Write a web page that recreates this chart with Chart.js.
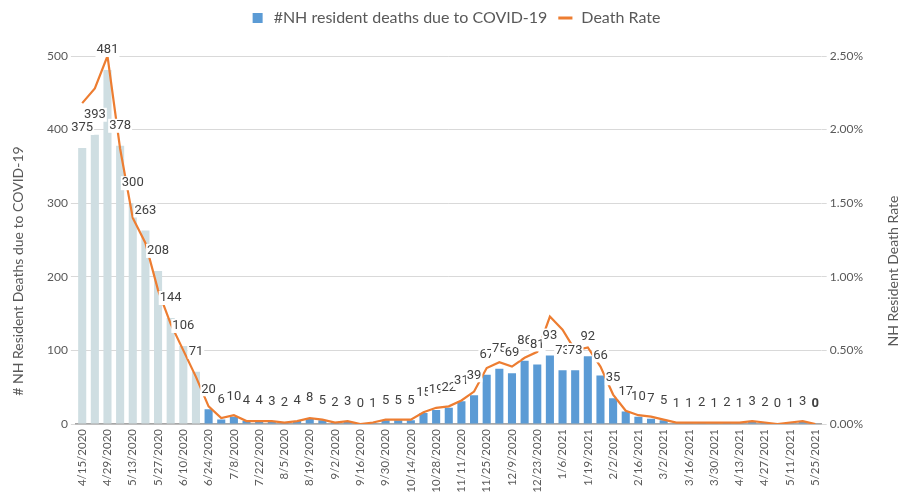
<!DOCTYPE html>
<html lang="en">
<head>
  <meta charset="UTF-8" />
  <title>NH Resident Deaths</title>
  <script src="https://cdn.jsdelivr.net/npm/chart.js"></script>
  <style>
    body { margin: 0; background: #fff; }
    .wrap { width: 902px; height: 493px; }
  </style>
</head>
<body>
  <div class="wrap"><canvas id="chart"></canvas></div>
  <script>
    const weeks = ['4/15/2020','4/22/2020','4/29/2020','5/6/2020','5/13/2020','5/20/2020','5/27/2020','6/3/2020',
      '6/10/2020','6/17/2020','6/24/2020','7/1/2020','7/8/2020','7/15/2020','7/22/2020','7/29/2020','8/5/2020',
      '8/12/2020','8/19/2020','8/26/2020','9/2/2020','9/9/2020','9/16/2020','9/23/2020','9/30/2020','10/7/2020',
      '10/14/2020','10/21/2020','10/28/2020','11/4/2020','11/11/2020','11/18/2020','11/25/2020','12/2/2020',
      '12/9/2020','12/16/2020','12/23/2020','12/30/2020','1/6/2021','1/12/2021','1/19/2021','1/26/2021',
      '2/2/2021','2/9/2021','2/16/2021','2/23/2021','3/2/2021','3/9/2021','3/16/2021','3/23/2021','3/30/2021',
      '4/6/2021','4/13/2021','4/20/2021','4/27/2021','5/4/2021','5/11/2021','5/18/2021','5/25/2021'];

    const deaths = [375,393,481,378,300,263,208,144,106,71,20,6,10,4,4,3,2,4,8,5,2,3,0,1,5,5,5,15,19,22,
      31,39,67,75,69,86,81,93,73,73,92,66,35,17,10,7,5,1,1,2,1,2,1,3,2,0,1,3,0];

    // death rate in percent
    const deathRate = [2.18,2.28,2.50,1.87,1.40,1.23,0.91,0.68,0.50,0.32,0.12,0.04,0.06,0.02,0.02,0.02,0.01,
      0.02,0.04,0.03,0.01,0.02,0.00,0.01,0.03,0.03,0.03,0.08,0.11,0.12,0.16,0.22,0.38,0.42,0.39,0.45,0.49,
      0.73,0.64,0.50,0.52,0.39,0.20,0.09,0.06,0.05,0.03,0.01,0.01,0.01,0.01,0.01,0.01,0.02,0.01,0.00,0.01,0.02,0.00];

    const firstWave = 10;
    const barColors = deaths.map((_, i) => i < firstWave ? '#cfdee2' : '#5b9bd5');

    const leftTitle = '# NH Resident Deaths due to COVID-19';
    const rightTitle = 'NH Resident Death Rate';

    const barLabels = {
      id: 'barLabels',
      afterDatasetsDraw(chart) {
        const ctx = chart.ctx;
        const meta = chart.getDatasetMeta(0);
        ctx.save();
        ctx.textAlign = 'center';
        ctx.textBaseline = 'middle';
        meta.data.forEach((bar, i) => {
          const txt = String(deaths[i]);
          const bold = i === deaths.length - 1;
          ctx.font = (bold ? 'bold ' : '') + '13px Roboto';
          const w = ctx.measureText(txt).width;
          const y = bar.y - 20;
          ctx.fillStyle = '#fff';
          ctx.fillRect(bar.x - w / 2 - 1, y - 7, w + 2, 14);
          ctx.fillStyle = '#404040';
          ctx.fillText(txt, bar.x, y);
        });
        ctx.restore();
      }
    };

    // axis titles, both reading bottom to top
    const axisTitles = {
      id: 'axisTitles',
      afterDraw(chart) {
        const ctx = chart.ctx;
        const cy = 271;
        ctx.save();
        ctx.font = '14px Lato';
        ctx.fillStyle = '#595959';
        ctx.textAlign = 'center';
        ctx.textBaseline = 'middle';
        [[18, leftTitle], [chart.width - 9, rightTitle]].forEach(([x, t]) => {
          ctx.save();
          ctx.translate(x, cy);
          ctx.rotate(-Math.PI / 2);
          ctx.fillText(t, 0, 0);
          ctx.restore();
        });
        ctx.restore();
      }
    };

    // extra room under the legend
    const legendSpace = {
      id: 'legendSpace',
      afterInit(chart) {
        const lg = chart.legend;
        if (!lg) return;
        const fit = lg.fit;
        lg.fit = function () { fit.call(this); this.height += 20; };
      }
    };

    new Chart(document.getElementById('chart'), {
      data: {
        labels: weeks,
        datasets: [
          {
            type: 'bar',
            label: '#NH resident deaths due to COVID-19',
            data: deaths,
            backgroundColor: barColors,
            yAxisID: 'y',
            barPercentage: 0.64,
            categoryPercentage: 1,
            order: 2
          },
          {
            type: 'line',
            label: 'Death Rate',
            data: deathRate,
            borderColor: '#ed7d31',
            borderWidth: 2.2,
            pointRadius: 0,
            tension: 0,
            yAxisID: 'y1',
            order: 1
          }
        ]
      },
      options: {
        responsive: true,
        maintainAspectRatio: false,
        animation: false,
        layout: { padding: { left: 44, right: 36, top: 0, bottom: 0 } },
        plugins: {
          tooltip: { enabled: false },
          legend: {
            position: 'top',
            labels: {
              color: '#595959',
              font: { family: 'Lato', size: 16 },
              usePointStyle: true,
              boxHeight: 10,
              padding: 10,
              generateLabels() {
                return [
                  { text: '#NH resident deaths due to COVID-19', fillStyle: '#5b9bd5', strokeStyle: '#5b9bd5',
                    lineWidth: 0, pointStyle: 'rect', datasetIndex: 0, fontColor: '#595959' },
                  { text: 'Death Rate', fillStyle: '#ed7d31', strokeStyle: '#ed7d31',
                    lineWidth: 3, pointStyle: 'line', datasetIndex: 1, fontColor: '#595959' }
                ];
              }
            }
          }
        },
        scales: {
          x: {
            grid: { display: false },
            border: { color: '#a6a6a6', width: 1.5 },
            afterFit(scale) { scale.height = 69; },
            ticks: {
              autoSkip: false,
              minRotation: 90,
              maxRotation: 90,
              padding: -3,
              color: '#595959',
              font: { family: 'Lato', size: 11.5 },
              callback(v, i) { return i % 2 === 0 ? weeks[i] : ''; }
            }
          },
          y: {
            position: 'left',
            min: 0,
            max: 500,
            ticks: { stepSize: 100, color: '#595959', font: { family: 'Lato', size: 12 } },
            grid: { color: '#d9d9d9', tickLength: 5 },
            border: { display: false }
          },
          y1: {
            position: 'right',
            min: 0,
            max: 2.5,
            ticks: {
              stepSize: 0.5,
              color: '#595959',
              font: { family: 'Lato', size: 12 },
              callback: v => v.toFixed(2) + '%'
            },
            grid: { drawOnChartArea: false, color: '#d9d9d9', tickLength: 5 },
            border: { display: false }
          }
        }
      },
      plugins: [barLabels, axisTitles, legendSpace]
    });
  </script>
</body>
</html>
